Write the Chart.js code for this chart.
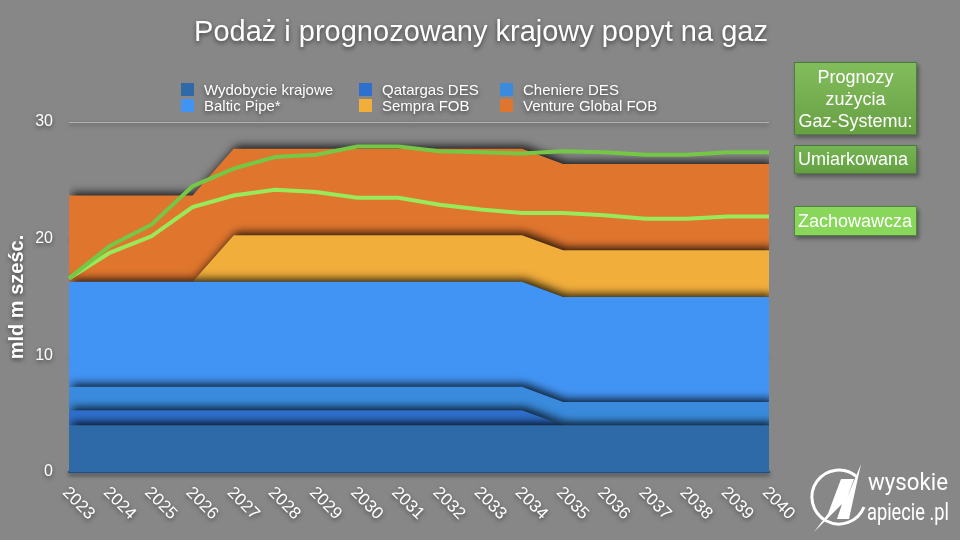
<!DOCTYPE html>
<html>
<head>
<meta charset="utf-8">
<script src="https://cdn.jsdelivr.net/npm/chart.js@4/dist/chart.umd.min.js"></script>
<style>
  html, body { margin: 0; padding: 0; }
  body { width: 960px; height: 540px; background: #878787; position: relative; overflow: hidden;
         font-family: "Liberation Sans", Arial, Helvetica, sans-serif; color: #fff; }
  #chart { position: absolute; left: 0; top: 0; }
  .shadow { text-shadow: 0 2px 4px rgba(0,0,0,0.55); }
  #title { position: absolute; left: 0; width: 962px; top: 14px; text-align: center;
           font-size: 29px; line-height: 34px; }
  .leg { position: absolute; font-size: 15px; line-height: 16px; white-space: nowrap; }
  .leg i { position: absolute; left: 0; top: 1px; width: 13px; height: 13px; }
  .leg span { position: absolute; left: 23px; top: 0; }
  .box { position: absolute; left: 794px; width: 123px; box-sizing: border-box;
         border: 1px solid rgba(70,110,60,0.8); box-shadow: 2px 3px 4px rgba(0,0,0,0.35);
         font-size: 18px; color: #fff; }
  #b1 { top: 62px; height: 73px; text-align: center; line-height: 22px; padding-top: 3px;
        background: linear-gradient(#82bd5c, #68a044); }
  #b2 { top: 145px; height: 29px; line-height: 27px; padding-left: 3px;
        background: linear-gradient(#75b452, #64a043); }
  #b3 { top: 206px; height: 30px; line-height: 28px; padding-left: 3px;
        background: #88d65a; }
  #logo { position: absolute; left: 800px; top: 455px; }
</style>
</head>
<body>
<canvas id="chart" width="960" height="540"></canvas>
<div id="title" class="shadow">Podaż i prognozowany krajowy popyt na gaz</div>
<div id="legend"></div>
<div id="b1" class="box">Prognozy<br>zużycia<br>Gaz-Systemu:</div>
<div id="b2" class="box">Umiarkowana</div>
<div id="b3" class="box">Zachowawcza</div>
<svg id="logo" width="160" height="85" viewBox="0 0 160 85">
  <g fill="none" stroke="#fff" stroke-width="3">
    <path d="M57 22 A27 27 0 1 0 64 52"/>
  </g>
  <path fill="#fff" d="M26 64 L41 24 L54 24 L47 43 L61 9 L49 64 L37 64 L42 49 L14 77 L30 56 Z"/>
  <text x="68" y="35" fill="#fff" font-family="Roboto, sans-serif" font-size="23" textLength="80" lengthAdjust="spacingAndGlyphs">wysokie</text>
  <text x="67" y="65" fill="#fff" font-family="Roboto, sans-serif" font-size="23" textLength="82" lengthAdjust="spacingAndGlyphs">apiecie .pl</text>
</svg>
<script>
const years = ['2023','2024','2025','2026','2027','2028','2029','2030','2031','2032',
               '2033','2034','2035','2036','2037','2038','2039','2040'];

// stacked supply, mld m3
const wydobycie = [4,4,4,4,4,4,4,4,4,4,4,4,4,4,4,4,4,4];
const qatargas  = [1.3,1.3,1.3,1.3,1.3,1.3,1.3,1.3,1.3,1.3,1.3,1.3,0,0,0,0,0,0];
const cheniere  = [2,2,2,2,2,2,2,2,2,2,2,2,2,2,2,2,2,2];
const baltic    = [9,9,9,9,9,9,9,9,9,9,9,9,9,9,9,9,9,9];
const sempra    = [0,0,0,0,4,4,4,4,4,4,4,4,4,4,4,4,4,4];
const venture   = [7.4,7.4,7.4,7.4,7.4,7.4,7.4,7.4,7.4,7.4,7.4,7.4,7.4,7.4,7.4,7.4,7.4,7.4];

// demand forecasts
const umiarkowana = [16.6,19.4,21.2,24.5,26.0,27.0,27.2,27.9,27.9,27.5,27.4,27.3,27.5,27.4,27.2,27.2,27.4,27.4];
const zachowawcza = [16.6,18.8,20.2,22.7,23.7,24.2,24.0,23.5,23.5,22.9,22.5,22.2,22.2,22.0,21.7,21.7,21.9,21.9];

const yTicks = [0, 10, 20, 30];

const seriesNames = ['Wydobycie krajowe', 'Qatargas DES', 'Cheniere DES', 'Baltic Pipe*', 'Sempra FOB', 'Venture Global FOB'];
const seriesData = [wydobycie, qatargas, cheniere, baltic, sempra, venture];
const seriesColors = ['#2e6aa7', '#2f6fcd', '#3a8bdd', '#4294f4', '#f1ae3b', '#e0762e'];

// legend: 3 columns x 2 rows, column-major like the original
const legCols = [181, 359, 500];
const legRows = [82, 98];
const legOrder = [0, 3, 1, 4, 2, 5];
const legend = document.getElementById('legend');
legOrder.forEach((s, k) => {
  const d = document.createElement('div');
  d.className = 'leg';
  d.style.left = legCols[Math.floor(k / 2)] + 'px';
  d.style.top = legRows[k % 2] + 'px';
  d.innerHTML = '<i style="background:' + seriesColors[s] + '"></i><span class="shadow">' + seriesNames[s] + '</span>';
  legend.appendChild(d);
});

const datasets = seriesData.map((data, i) => ({
  label: seriesNames[i],
  data: data,
  stack: 'supply',
  order: 1,
  backgroundColor: seriesColors[i],
  borderWidth: 0,
  pointRadius: 0,
  fill: i === 0 ? 'origin' : '-1',
  clip: false
}));
datasets.push({
  label: 'Umiarkowana', data: umiarkowana, stack: 'u', order: 0,
  borderColor: '#74c846', borderWidth: 4, pointRadius: 0, fill: false
});
datasets.push({
  label: 'Zachowawcza', data: zachowawcza, stack: 'z', order: 0,
  borderColor: '#98ea5a', borderWidth: 4, pointRadius: 0, fill: false
});

const shadows = {
  id: 'shadows',
  beforeDraw(chart) {
    const ctx = chart.ctx;
    ctx.save();
    ctx.shadowColor = 'rgba(0,0,0,0.5)';
    ctx.shadowBlur = 4;
    ctx.shadowOffsetY = 2;
  },
  beforeDatasetsDraw(chart) {
    const ctx = chart.ctx;
    ctx.restore();
    ctx.save();
    ctx.shadowColor = 'rgba(0,0,0,0.8)';
    ctx.shadowBlur = 8;
    ctx.shadowOffsetX = 3;
    ctx.shadowOffsetY = -3;
  },
  beforeDatasetDraw(chart, args) {
    if (args.index >= 6) chart.ctx.shadowColor = 'rgba(0,0,0,0)';
  },
  afterDatasetsDraw(chart) {
    chart.ctx.restore();
  },
  afterDraw(chart) {
    // rotated year labels, running down to the right
    const ctx = chart.ctx;
    const xs = chart.scales.x;
    ctx.save();
    ctx.font = '17px "Liberation Sans", Arial, sans-serif';
    ctx.fillStyle = '#fff';
    ctx.textAlign = 'left';
    ctx.textBaseline = 'top';
    ctx.shadowColor = 'rgba(0,0,0,0.5)';
    ctx.shadowBlur = 4;
    ctx.shadowOffsetY = 2;
    years.forEach((y, i) => {
      const x = xs.getPixelForValue(i);
      ctx.save();
      ctx.translate(x + 2, 484);
      ctx.rotate(Math.PI / 4);
      ctx.fillText(y, 0, 0);
      ctx.restore();
    });
    ctx.restore();
  }
};

new Chart(document.getElementById('chart'), {
  type: 'line',
  data: { labels: years, datasets: datasets },
  options: {
    responsive: false,
    animation: false,
    layout: { padding: { top: 122, right: 191, bottom: 0, left: 0 } },
    plugins: { legend: { display: false }, tooltip: { enabled: false } },
    elements: { line: { tension: 0 } },
    scales: {
      x: {
        offset: false,
        z: 1,
        ticks: { display: false },
        grid: { display: false },
        border: { display: true, color: '#1f4f86', width: 2 },
        afterFit: s => { s.height = 68; }
      },
      y: {
        stacked: true,
        min: 0,
        max: 30,
        afterBuildTicks: s => { s.ticks = yTicks.map(v => ({ value: v })); },
        ticks: {
          color: '#fff',
          padding: 16,
          font: { family: '"Liberation Sans", Arial, sans-serif', size: 16 }
        },
        grid: { color: '#b0b0b0', lineWidth: 1, drawTicks: false },
        border: { display: false },
        title: {
          display: true,
          text: 'mld m sześc.',
          color: '#fff',
          padding: { top: 5, bottom: 4 },
          font: { family: '"Liberation Sans", Arial, sans-serif', size: 20, weight: 'bold' }
        },
        afterFit: s => { s.width = 69; }
      }
    }
  },
  plugins: [shadows]
});
</script>
</body>
</html>
